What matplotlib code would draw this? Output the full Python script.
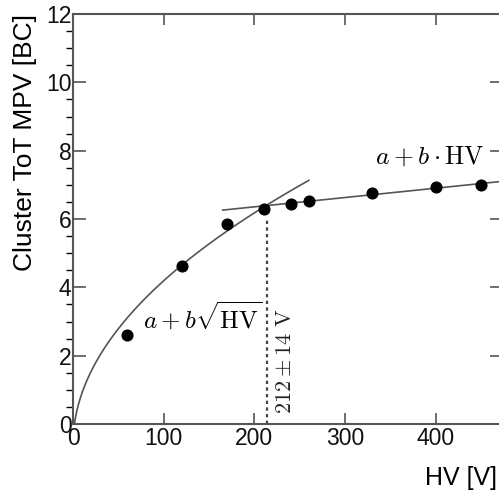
import numpy as np
import matplotlib.pyplot as plt

plt.rcParams['font.family'] = ['Liberation Sans', 'DejaVu Sans']
plt.rcParams['mathtext.fontset'] = 'cm'

# measured points
hv = [60, 120, 170, 210, 240, 260, 330, 400, 450]
mpv = [2.6, 4.63, 5.86, 6.29, 6.44, 6.54, 6.77, 6.93, 6.99]

# fit parameters
sqrt_a, sqrt_b = -0.602, 0.4796
lin_a, lin_b = 5.81, 0.00273
knee = 214
knee_label = r'$212 \pm 14\ \mathrm{V}$'

fig = plt.figure(figsize=(4.99, 4.95), dpi=100)
ax = fig.add_axes([73 / 499, 71 / 495, 430 / 499, 410 / 495])

line_col = '#555555'
x1 = np.linspace(1.6, 260, 300)
ax.plot(x1, sqrt_a + sqrt_b * np.sqrt(x1), color=line_col, lw=1.2)
x2 = np.linspace(165, 474, 50)
ax.plot(x2, lin_a + lin_b * x2, color=line_col, lw=1.2)
ax.plot([knee, knee], [0, 5.98], color='#444444', lw=1.6, ls=(0, (1.5, 1.5)))
ax.plot(hv, mpv, 'o', color='black', ms=7.7, zorder=5)

ax.text(77, 2.79, r'$a+b\sqrt{\mathrm{HV}}$', fontsize=18, ha='left', va='baseline')
ax.text(454, 7.62, r'$a+b\cdot\mathrm{HV}$', fontsize=18.5, ha='right', va='baseline')
ax.text(234, 0.3, knee_label, fontsize=16, rotation=90, ha='center', va='bottom',
        color='#222222')

ax.set_xlim(0, 474)
ax.set_ylim(0, 12)
ax.set_xticks([0, 100, 200, 300, 400])
ax.set_yticks([0, 2, 4, 6, 8, 10, 12])
ax.set_yticks(np.arange(0, 12.01, 0.5), minor=True)
ax.tick_params(axis='both', direction='in', labelsize=16.5, colors='#555555',
               labelcolor='#111111')
ax.tick_params(axis='x', which='major', length=8, width=1.2, top=True, pad=2)
ax.tick_params(axis='y', which='major', length=9.5, width=1.2, right=True, pad=1)
ax.tick_params(axis='y', which='minor', length=5, width=1.0, right=True)
for sp in ax.spines.values():
    sp.set_color('#555555')
    sp.set_linewidth(1.5)

ax.set_xlabel('HV [V]', fontsize=18, loc='right')
ax.xaxis.set_label_coords((497 - 73) / 430, -(485 - 424) / 410)
ax.xaxis.label.set_va('baseline')
ax.set_ylabel('Cluster ToT MPV [BC]', fontsize=19, loc='top')
ax.yaxis.set_label_coords(-(73 - 37) / 430, 1.0)

fig.savefig('out.png', dpi=100)
